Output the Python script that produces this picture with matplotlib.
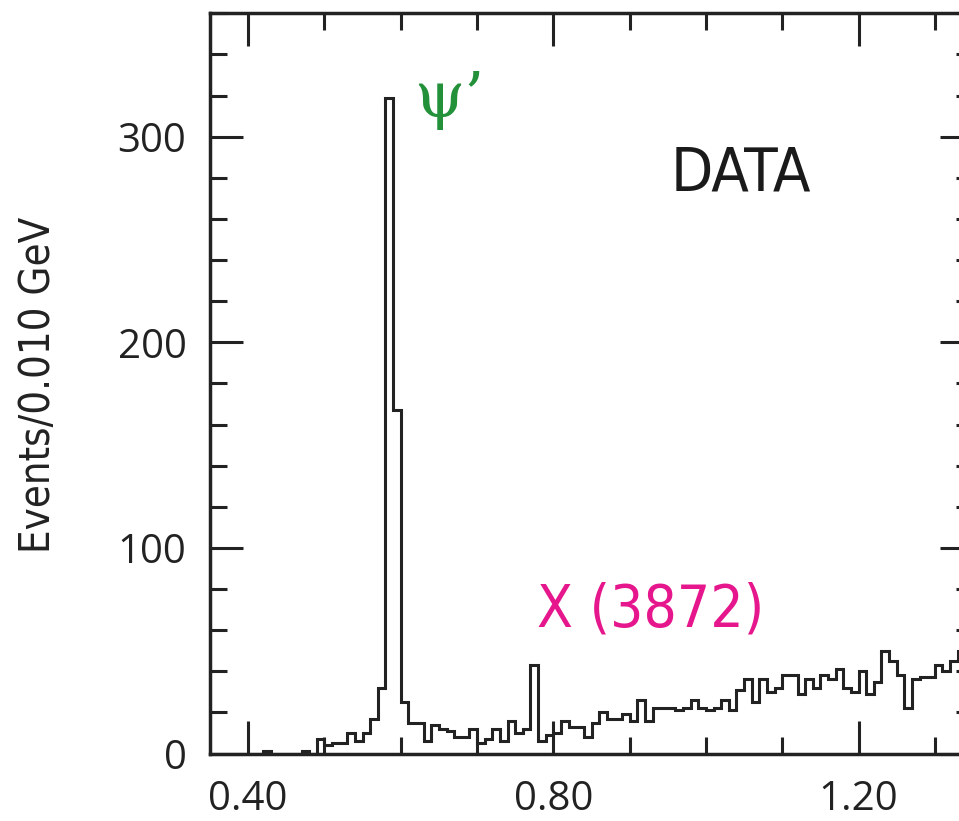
import numpy as np
import matplotlib
matplotlib.use("Agg")
import matplotlib.pyplot as plt
from matplotlib.ticker import MultipleLocator, FixedLocator

# histogram: events per 0.010 GeV bin, starting at 0.35
bin_start = 0.35
bin_width = 0.01
counts = [0, 0, 0, 0, 0, 0, 0, 1, 0, 0,
          0, 0, 1, 0, 7, 4, 5, 5, 10, 6,
          10, 17, 32, 319, 167, 25, 15, 15, 6, 14,
          12, 11, 8, 8, 12, 5, 7, 12, 6, 16,
          10, 12, 43, 6, 9, 10, 16, 13, 13, 8,
          15, 20, 17, 17, 19, 16, 26, 16, 22, 22,
          22, 21, 22, 26, 22, 21, 22, 26, 21, 31,
          36, 25, 36, 30, 32, 38, 38, 29, 36, 32,
          38, 36, 41, 32, 30, 40, 29, 35, 50, 45,
          38, 22, 36, 37, 37, 43, 40, 45, 50, 48]

x_major = [0.40, 0.80, 1.20]
x_labels = ["0.40", "0.80", "1.20"]
y_major = [0, 100, 200, 300]
y_labels = ["0", "100", "200", "300"]

edges = bin_start + bin_width * np.arange(len(counts) + 1)

fig = plt.figure(figsize=(9.59, 8.21), dpi=100)
ax = fig.add_axes([210 / 959, 67.5 / 821, 763 / 959, 740.2 / 821])

ax.stairs(counts, edges, color="#222222", linewidth=2.2)

ax.set_xlim(0.35, 1.35)
ax.set_ylim(0, 360)

ax.xaxis.set_major_locator(FixedLocator(x_major))
ax.set_xticklabels(x_labels)
ax.xaxis.set_minor_locator(MultipleLocator(0.1))
ax.yaxis.set_major_locator(FixedLocator(y_major))
ax.set_yticklabels(y_labels)
ax.yaxis.set_minor_locator(MultipleLocator(20))

ax.tick_params(which="both", direction="in", top=True, right=True,
               width=2.2, color="#222222")
ax.tick_params(which="major", length=24)
ax.tick_params(which="minor", length=12)
ax.tick_params(axis="x", which="major", pad=19, labelsize=29, labelcolor="#222222")
ax.tick_params(axis="y", which="major", pad=17, labelsize=29, labelcolor="#222222")
for lab in ax.get_xticklabels() + ax.get_yticklabels():
    lab.set_family(["Open Sans", "DejaVu Sans"])

for s in ax.spines.values():
    s.set_linewidth(2.5)
    s.set_color("#222222")

fig.text(38 / 959, 1 - 385 / 821, "Events/0.010 GeV", rotation=90,
         ha="center", va="center", fontsize=30, color="#222222",
         family="DejaVu Sans", fontstretch="condensed")

ax.text(0.665, 318, "\u03c8\u2019", color="#22913a", fontsize=46,
        family="DejaVu Serif", ha="center", va="center")
ax.text(1.046, 282, "DATA", color="#1a1a1a", fontsize=44,
        family="DejaVu Sans", fontstretch="condensed", ha="center", va="center")
ax.text(0.928, 70, "X (3872)", color="#e6168c", fontsize=42,
        family="DejaVu Sans", fontstretch="condensed", ha="center", va="center")

fig.savefig("out.png", dpi=100)
